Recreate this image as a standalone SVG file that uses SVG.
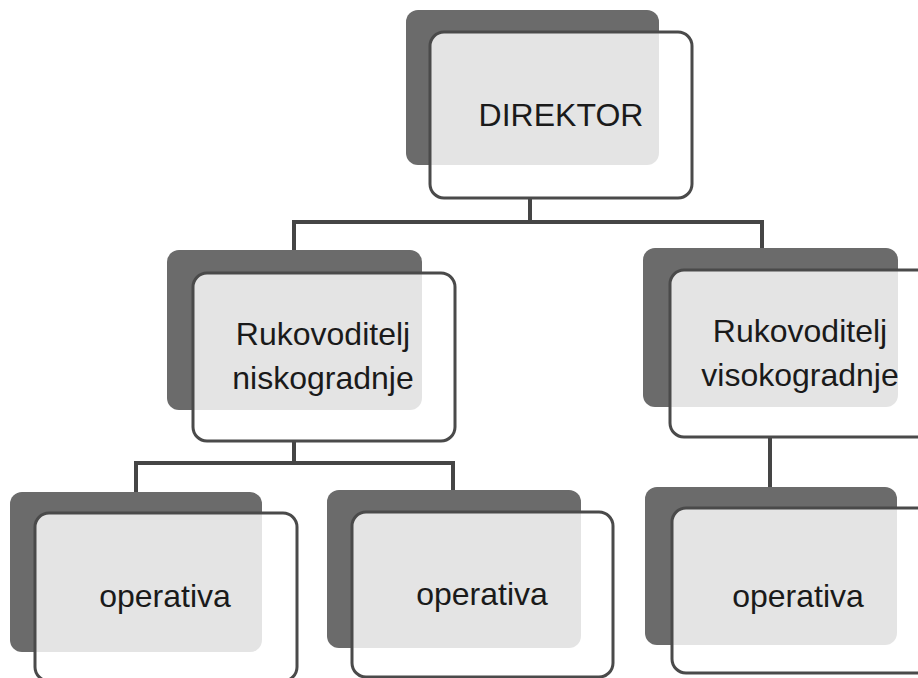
<svg xmlns="http://www.w3.org/2000/svg" width="918" height="678" viewBox="0 0 918 678">
<style>
.back{fill:#6b6b6b;}
.front{fill:#ffffff;fill-opacity:0.82;stroke:#4a4a4a;stroke-width:3;}
.conn{fill:none;stroke:#454545;stroke-width:4;stroke-linejoin:miter;}
.lbl{font-family:"Liberation Sans",Arial,sans-serif;font-size:32px;fill:#1a1a1a;text-anchor:middle;}
</style>
<rect width="918" height="678" fill="#ffffff"/>
<g id="connectors">
<path class="conn" d="M530,198 V222"/>
<path class="conn" d="M294,250 V222 H762 V248"/>
<path class="conn" d="M294,441 V463"/>
<path class="conn" d="M136,492 V463 H453 V490"/>
<path class="conn" d="M770,437 V487"/>
</g>
<g id="direktor">
<rect class="back" x="406" y="10" width="253" height="155" rx="12"/>
<rect class="front" x="430" y="32" width="262" height="166" rx="14"/>
<text class="lbl" x="561" y="126">DIREKTOR</text>
</g>
<g id="rukovoditelj-niskogradnje">
<rect class="back" x="167" y="250" width="255" height="160" rx="12"/>
<rect class="front" x="193" y="273" width="262" height="168" rx="14"/>
<text class="lbl" x="323" y="345">Rukovoditelj</text>
<text class="lbl" x="323" y="389">niskogradnje</text>
</g>
<g id="rukovoditelj-visokogradnje">
<rect class="back" x="643" y="248" width="255" height="159" rx="12"/>
<rect class="front" x="670" y="270" width="262" height="167" rx="14"/>
<text class="lbl" x="800" y="342">Rukovoditelj</text>
<text class="lbl" x="800" y="386">visokogradnje</text>
</g>
<g id="operativa-1">
<rect class="back" x="10" y="492" width="252" height="160" rx="12"/>
<rect class="front" x="35" y="513" width="262" height="168" rx="14"/>
<text class="lbl" x="165" y="607">operativa</text>
</g>
<g id="operativa-2">
<rect class="back" x="327" y="490" width="254" height="158" rx="12"/>
<rect class="front" x="352" y="512" width="261" height="165" rx="14"/>
<text class="lbl" x="482" y="605">operativa</text>
</g>
<g id="operativa-3">
<rect class="back" x="645" y="487" width="252" height="158" rx="12"/>
<rect class="front" x="672" y="508" width="262" height="165" rx="14"/>
<text class="lbl" x="798" y="607">operativa</text>
</g>
</svg>
